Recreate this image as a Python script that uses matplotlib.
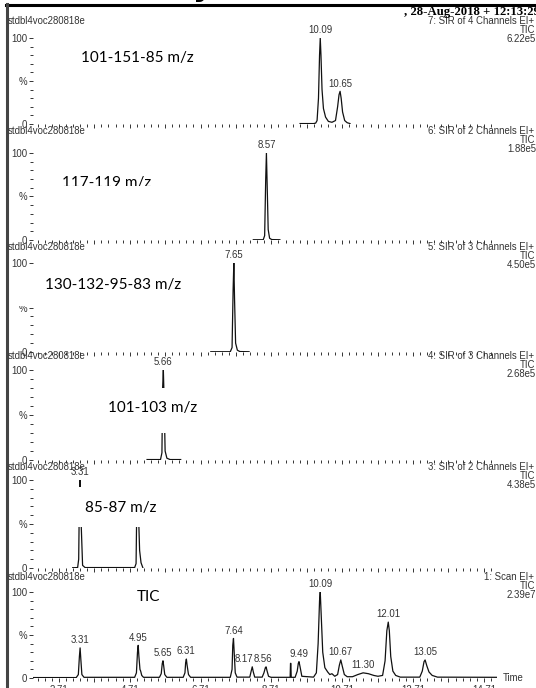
"""MassLynx-style stacked SIR / TIC chromatogram."""

import matplotlib.pyplot as plt
from matplotlib.lines import Line2D
from matplotlib.patches import Rectangle

W, H = 536, 688

SAMPLE = "stdbl4voc280818e"
DATE_TEXT = ", 28-Aug-2018 + 12:13:29"
FUNCTIONS = [
    "7: SIR of 4 Channels EI+",
    "6: SIR of 2 Channels EI+",
    "5: SIR of 3 Channels EI+",
    "4: SIR of 3 Channels EI+",
    "3: SIR of 2 Channels EI+",
    "1: Scan EI+",
]
SCALES = ["6.22e5", "1.88e5", "4.50e5", "2.68e5", "4.38e5", "2.39e7"]
ION_LABELS = ["101-151-85 m/z", "117-119 m/z", "130-132-95-83 m/z",
              "101-103 m/z", "85-87 m/z", "TIC"]

X_TICK_LABELS = ["2.71", "4.71", "6.71", "8.71", "10.71", "12.71", "14.71"]
Y_TICK_LABELS = ["0", "%", "100"]

# traces (time in min, relative intensity %)
T1 = [9.52, 9.90, 9.96, 10.00, 10.04, 10.07, 10.09, 10.11, 10.14, 10.18, 10.24,
      10.32, 10.42, 10.52, 10.58, 10.62, 10.65, 10.68, 10.72, 10.78, 10.85, 10.93]
I1 = [0.5, 0.5, 1, 4, 30, 80, 100, 80, 40, 18, 8,
      3, 2, 4, 20, 34, 38, 30, 14, 4, 1.5, 0.5]
T2 = [8.20, 8.48, 8.52, 8.55, 8.57, 8.59, 8.62, 8.66, 8.72, 8.95]
I2 = [0.3, 0.3, 5, 70, 100, 65, 12, 2, 0.5, 0.3]
T3 = [7.00, 7.55, 7.60, 7.63, 7.65, 7.67, 7.70, 7.75, 7.82, 8.08]
I3 = [0.3, 0.3, 5, 70, 100, 60, 10, 2, 0.5, 0.3]
T4 = [5.20, 5.58, 5.62, 5.64, 5.66, 5.68, 5.71, 5.76, 5.85, 6.15]
I4 = [0.5, 0.5, 8, 80, 100, 70, 10, 2, 0.5, 0.5]
T5 = [3.10, 3.24, 3.27, 3.29, 3.31, 3.34, 3.38, 3.45, 4.85, 4.89, 4.91, 4.93,
      4.96, 4.99, 5.03, 5.08]
I5 = [0.3, 0.5, 10, 80, 100, 50, 3, 0.5, 0.5, 5, 70, 85, 60, 20, 6, 0.5]
T6 = [1.98, 3.20, 3.26, 3.29, 3.31, 3.33, 3.36, 3.42,
      4.85, 4.90, 4.93, 4.95, 4.97, 5.00, 5.02, 5.05, 5.10,
      5.55, 5.60, 5.63, 5.65, 5.67, 5.70, 5.76,
      6.22, 6.27, 6.29, 6.31, 6.33, 6.37, 6.43,
      7.55, 7.60, 7.62, 7.64, 7.66, 7.69, 7.74,
      8.10, 8.14, 8.17, 8.20, 8.24,
      8.45, 8.50, 8.54, 8.56, 8.59, 8.63, 8.70,
      9.24, 9.25, 9.26, 9.27,
      9.38, 9.44, 9.47, 9.49, 9.52, 9.57,
      9.90, 9.98, 10.03, 10.07, 10.09, 10.12, 10.16, 10.22, 10.30, 10.36, 10.42, 10.50,
      10.58, 10.63, 10.67, 10.71, 10.77, 10.85,
      11.00, 11.15, 11.30, 11.45, 11.60, 11.72,
      11.85, 11.92, 11.97, 12.01, 12.04, 12.08, 12.14, 12.22, 12.35,
      12.90, 12.97, 13.02, 13.05, 13.10, 13.16, 13.25, 13.40, 15.08]
I6 = [0.5, 0.5, 4, 25, 35, 22, 4, 0.8,
      0.8, 6, 30, 38, 25, 10, 8, 3, 0.8,
      0.8, 5, 17, 20, 14, 4, 0.8,
      0.8, 6, 18, 22, 15, 4, 0.8,
      0.8, 10, 38, 46, 30, 6, 1,
      1, 8, 13, 7, 1,
      1, 6, 12, 13, 8, 2, 0.8,
      0.8, 17, 17, 0.8,
      0.8, 8, 17, 19, 13, 2,
      1, 6, 40, 90, 100, 70, 30, 12, 7, 4, 5, 2,
      4, 15, 21, 14, 4, 1.5,
      1.5, 4, 6, 5, 3, 2,
      3, 20, 55, 65, 55, 25, 8, 3, 1,
      1, 8, 19, 21, 14, 7, 3, 1, 0.8]

PEAKS1 = ["10.09", "10.65"]
PEAK_H1 = [100, 38]
PEAKS2 = ["8.57"]
PEAK_H2 = [100]
PEAKS3 = ["7.65"]
PEAK_H3 = [100]
PEAKS4 = ["5.66"]
PEAK_H4 = [100]
PEAKS5 = ["3.31"]
PEAK_H5 = [100]
PEAKS6 = ["3.31", "4.95", "5.65", "6.31", "7.64", "8.17", "8.56",
          "9.49", "10.09", "10.67", "11.30", "12.01", "13.05"]
PEAK_H6 = [35, 38, 20, 22, 46, 13, 13, 19, 100, 21, 6, 65, 21]

TIMES = [T1, T2, T3, T4, T5, T6]
INTENS = [I1, I2, I3, I4, I5, I6]
PEAKS = [PEAKS1, PEAKS2, PEAKS3, PEAKS4, PEAKS5, PEAKS6]
PEAK_H = [PEAK_H1, PEAK_H2, PEAK_H3, PEAK_H4, PEAK_H5, PEAK_H6]

# layout (pixels)
TOPS = [38, 153, 263, 370, 480, 592]
BOTTOMS = [124, 240, 352, 460, 568, 678]
HEADER_Y = [21, 131, 247, 356, 467, 577]
AX_LEFT, AX_RIGHT = 33, 497
XMIN, XMAX = 1.98, 15.08
SMALL = dict(family="Liberation Sans", fontsize=6.9, color="#333333")
ION_FONT = dict(family="Lato", fontsize=11, color="black")
ION_POS = [(0.103, 0.767), (0.063, 0.655), (0.026, 0.753),
           (0.162, 0.578), (0.112, 0.68), (0.224, 0.94)]
# white masks that hide parts of the traces/ticks (axes fraction: x0, y0, w, h)
MASKS = {1: (0.058, 0.52, 0.205, 0.10),
         2: (-0.03, 0.52, 0.325, 0.44),
         3: (0.144, 0.30, 0.205, 0.50),
         4: (0.08, 0.47, 0.172, 0.45)}
LABEL_DX = {"8.17": -6, "8.56": -2}


def fx(x):
    return x / W


def fy(y):
    return 1 - y / H


fig = plt.figure(figsize=(W / 100, H / 100), dpi=100)

major = [float(v) - 1 for v in X_TICK_LABELS] + [float(v) for v in X_TICK_LABELS]
major = sorted(m for m in major if XMIN <= m <= XMAX)
major_labels = [f"{m:.2f}" if f"{m:.2f}" in X_TICK_LABELS else "" for m in major]
minor = [round(major[0] + 0.2 * k - 1.0, 2) for k in range(80)]
minor = [m for m in minor if XMIN <= m <= XMAX]

for k in range(6):
    top, bottom = TOPS[k], BOTTOMS[k]
    ax = fig.add_axes([fx(AX_LEFT), fy(bottom), fx(AX_RIGHT - AX_LEFT),
                       (bottom - top) / H])
    ax.plot(TIMES[k], INTENS[k], color="#111111", lw=0.9)
    ax.set_xlim(XMIN, XMAX)
    ax.set_ylim(0, 100)
    for s in ax.spines.values():
        s.set_visible(False)
    ax.set_yticks([0, 50, 100])
    ax.set_yticklabels(Y_TICK_LABELS, **SMALL)
    ax.set_yticks(list(range(10, 100, 10)), minor=True)
    ax.set_xticks(major)
    ax.set_xticks(minor, minor=True)
    if k == 5:
        ax.set_xticklabels(major_labels, **SMALL)
        ax.text(1.012, 0, "Time", transform=ax.transAxes, va="center",
                ha="left", **SMALL)
    else:
        ax.set_xticklabels([])
    ax.tick_params(axis="y", which="major", length=3, width=0.7, pad=1,
                   color="#333333")
    ax.tick_params(axis="y", which="minor", length=2, width=0.7, color="#333333")
    ax.tick_params(axis="x", which="major", length=3, width=0.7, pad=2,
                   color="#333333")
    ax.tick_params(axis="x", which="minor", length=2, width=0.7, color="#333333")

    for lab, h in zip(PEAKS[k], PEAK_H[k]):
        ax.annotate(lab, (float(lab), h), xytext=(LABEL_DX.get(lab, 0), 2),
                    textcoords="offset points", ha="center", va="bottom",
                    annotation_clip=False, **SMALL)

    if k in MASKS:
        x0, y0, w, h = MASKS[k]
        ax.add_patch(Rectangle((x0, y0), w, h, transform=ax.transAxes,
                               facecolor="white", edgecolor="none",
                               zorder=5, clip_on=False))
    tx, ty = ION_POS[k]
    ax.text(tx, ty, ION_LABELS[k], transform=ax.transAxes, ha="left",
            va="center", zorder=6 if k != 1 else 4, **ION_FONT)

    hy = HEADER_Y[k]
    fig.text(fx(8), fy(hy), SAMPLE, ha="left", va="center", **SMALL)
    fig.text(fx(534), fy(hy), FUNCTIONS[k], ha="right", va="center", **SMALL)
    fig.text(fx(535), fy(hy + 9), "TIC", ha="right", va="center", **SMALL)
    fig.text(fx(536), fy(hy + 18), SCALES[k], ha="right", va="center", **SMALL)

# page frame of the original printout
fig.add_artist(Line2D([fx(6), 1], [fy(5), fy(5)], color="black", lw=2.2))
fig.add_artist(Line2D([fx(7), fx(7)], [fy(4), 0], color="#444444", lw=2.2))
fig.text(fx(193), fy(-4), "y", fontsize=22, family="DejaVu Sans",
         fontweight="bold", va="baseline", ha="left")
fig.text(fx(404), fy(15.5), DATE_TEXT, family="Liberation Serif",
         fontsize=9.2, fontweight="bold", ha="left", va="baseline")

fig.savefig("out.png", dpi=100)
